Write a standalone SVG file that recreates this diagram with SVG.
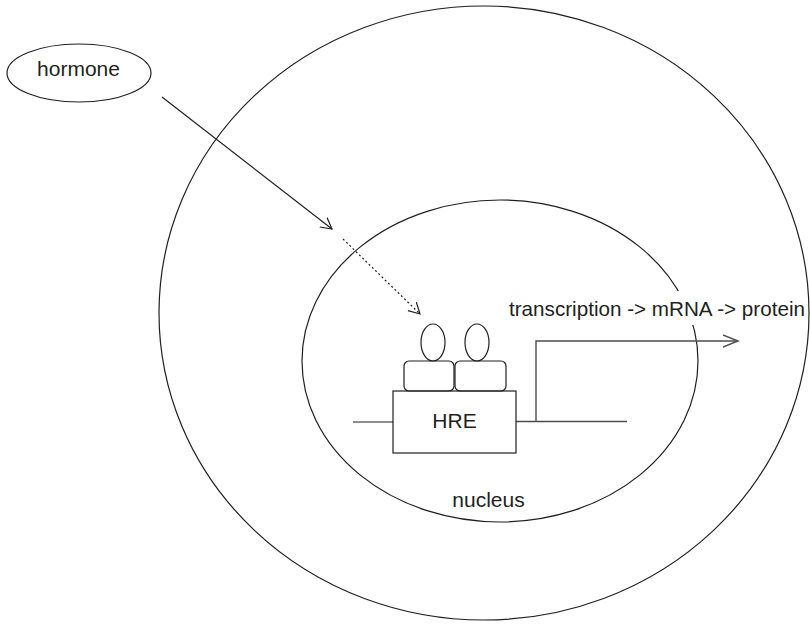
<svg xmlns="http://www.w3.org/2000/svg" width="810" height="624" viewBox="0 0 810 624">
<style>
.ln{fill:none;stroke:#231f20;stroke-width:1.2}
.gl{fill:none;stroke:#4d4d4d;stroke-width:1.4}
.t{font-family:"Liberation Sans",Arial,sans-serif;font-size:21px;fill:#231f20}
</style>
<defs>
<marker id="ah" markerUnits="userSpaceOnUse" markerWidth="14" markerHeight="14" refX="11" refY="6" orient="auto" viewBox="0 0 14 12">
<path d="M0,0 L11,6 L0,12" fill="none" stroke="#231f20" stroke-width="1.2"/>
</marker>
<marker id="ah2" markerUnits="userSpaceOnUse" markerWidth="18" markerHeight="14" refX="15" refY="6" orient="auto" viewBox="0 0 18 12">
<path d="M0,0 L15,6 L0,12" fill="none" stroke="#4d4d4d" stroke-width="1.4"/>
</marker>
</defs>
<rect width="810" height="624" fill="#fff"/>
<g id="cell"><ellipse class="ln" cx="484" cy="313" rx="325" ry="307"/></g>
<g id="nucleus">
<ellipse class="ln" cx="500" cy="361" rx="198" ry="161"/>
<text class="t" x="488.5" y="507" text-anchor="middle">nucleus</text>
</g>
<g id="hormone">
<ellipse class="ln" cx="79" cy="73" rx="72" ry="29"/>
<text class="t" x="78.5" y="76" text-anchor="middle">hormone</text>
</g>
<g id="receptors">
<ellipse class="ln" cx="433" cy="342.5" rx="12" ry="18.5"/>
<ellipse class="ln" cx="477" cy="342.5" rx="12" ry="18.5"/>
<rect class="ln" x="404" y="361" width="50" height="30" rx="5"/>
<rect class="ln" x="455" y="361" width="51" height="30" rx="5"/>
</g>
<g id="dna">
<line class="ln" x1="353" y1="422" x2="393" y2="422"/>
<line class="gl" x1="516" y1="421.5" x2="627" y2="421.5"/>
</g>
<g id="hre">
<rect class="ln" x="393" y="391" width="123" height="62"/>
<text class="t" x="454.5" y="428" text-anchor="middle">HRE</text>
</g>
<g id="label">
<rect x="506" y="291" width="298" height="34" fill="#fff"/>
<text class="t" x="509" y="316" textLength="296" lengthAdjust="spacingAndGlyphs">transcription -&gt; mRNA -&gt; protein</text>
</g>
<g id="connectors">
<line class="ln" x1="162" y1="97" x2="332" y2="229" marker-end="url(#ah)"/>
<line class="ln" x1="343" y1="239" x2="420" y2="314" stroke-dasharray="2,2.5" marker-end="url(#ah)"/>
<polyline class="gl" points="536,421.5 536,341 738,341" marker-end="url(#ah2)"/>
</g>
</svg>
